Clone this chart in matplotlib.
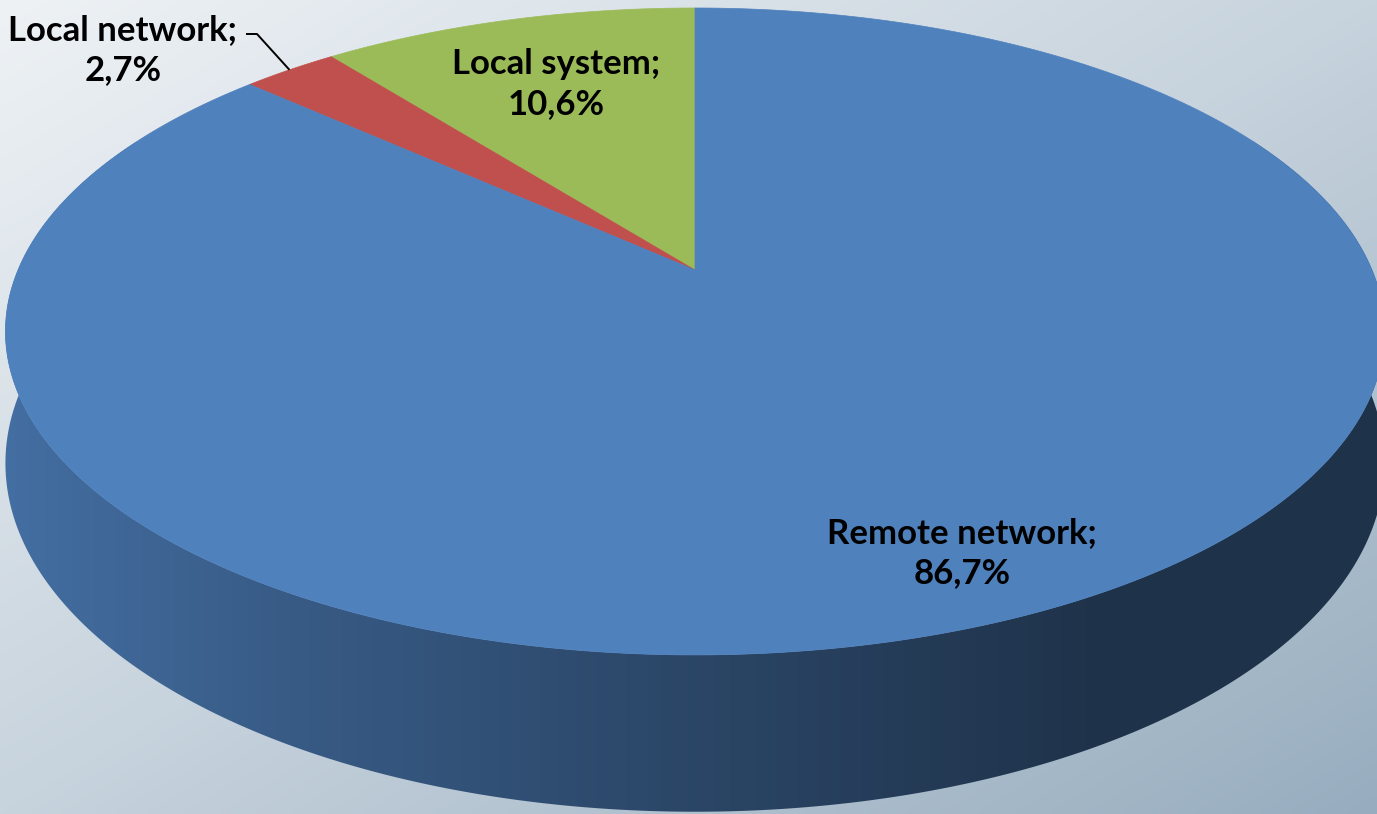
import numpy as np
import matplotlib
matplotlib.use("Agg")
import matplotlib.pyplot as plt
from matplotlib.patches import Polygon
from matplotlib.colors import to_rgb

# ---- data ----
labels = ["Local system", "Local network", "Remote network"]
values = [10.6, 2.7, 86.7]
colors = ["#9bbb59", "#c0504d", "#4f81bd"]

# ---- layout (pixel space) ----
W, H = 1377, 814
cx, cy = 695, 270      # apex of the pie on screen
RX, RY = 677, 311.8    # radii of the top ellipse
P = 0.19               # perspective strength
DEPTH = 127            # thickness of the pie

fig = plt.figure(figsize=(W / 100, H / 100), dpi=100)
ax = fig.add_axes([0, 0, 1, 1])
ax.set_xlim(0, W)
ax.set_ylim(H, 0)
ax.axis("off")

# background diagonal gradient
gx, gy = np.meshgrid(np.linspace(0, 1, 300), np.linspace(0, 1, 200))
t = gx + gy
c0 = np.array(to_rgb("#eef2f5"))
c1 = np.array(to_rgb("#c7d3dd"))
c2 = np.array(to_rgb("#97adbf"))
tt = t[..., None]
img = np.where(tt <= 1, c0 + (c1 - c0) * tt, c1 + (c2 - c1) * (tt - 1))
ax.imshow(img, extent=[0, W, H, 0], aspect="auto", zorder=0, interpolation="bilinear")


def proj(theta_deg):
    th = np.radians(theta_deg)
    z = -np.sin(th)
    d = 1 - P * z
    X = cx + RX * np.cos(th) / d
    Y = cy + RY * z / d
    return X, Y, d


def side_shade(x):
    xs = [0, 300, 700, 1000, 1100, W]
    fs = [0.86, 0.70, 0.54, 0.43, 0.39, 0.39]
    return np.interp(x, xs, fs)


# slice angles (counter-clockwise from 12 o'clock)
total = sum(values)
starts = []
a = 90.0
for v in values:
    starts.append((a, a + 360.0 * v / total))
    a += 360.0 * v / total

# sides: each slice's outer wall, shaded by horizontal position
xs_grad = np.linspace(0, W, 600)
for (a0, a1), col in zip(starts, colors):
    base = np.array(to_rgb(col))
    ang = np.linspace(a0, a1, max(int((a1 - a0) * 3), 4))
    z = -np.sin(np.radians(ang))
    ang = ang[z > -0.45]
    if len(ang) < 2:
        continue
    X, Y, d = proj(ang)
    pts = list(zip(X, Y)) + list(zip(X[::-1], (Y + DEPTH / d)[::-1]))
    poly = Polygon(pts, closed=True, facecolor="none", edgecolor="none", zorder=2)
    ax.add_patch(poly)
    grad = np.clip(base[None, None, :] * side_shade(xs_grad)[None, :, None], 0, 1)
    im = ax.imshow(grad, extent=[0, W, H, 0], aspect="auto", zorder=2,
                   interpolation="bilinear")
    im.set_clip_path(poly)

# top surface
for (a0, a1), col in zip(starts, colors):
    ang = np.linspace(a0, a1, max(int((a1 - a0) * 3), 4))
    X, Y, _ = proj(ang)
    pts = [(cx, cy)] + list(zip(X, Y))
    ax.add_patch(Polygon(pts, closed=True, facecolor=col, edgecolor=col,
                         linewidth=0.5, zorder=3))

# labels
def fmt(v):
    return f"{v:.1f}".replace(".", ",") + "%"

font = dict(family=["Lato", "DejaVu Sans"], fontsize=25, fontweight="bold",
            color="black", ha="center", va="center", linespacing=1.33, zorder=5)

label_pos = {"Local system": (556, 84), "Local network": (123, 50),
             "Remote network": (962, 553)}
for lab, v in zip(labels, values):
    x, y = label_pos[lab]
    ax.text(x, y, f"{lab};\n{fmt(v)}", **font)

# leader line for the small slice
a0, a1 = starts[1]
lx, ly, _ = proj(0.5 * (a0 + a1))
ax.plot([246, 257, lx], [34, 34, ly], color="black", linewidth=1.4, zorder=5,
        solid_capstyle="butt")

fig.savefig("out.png", dpi=100)
